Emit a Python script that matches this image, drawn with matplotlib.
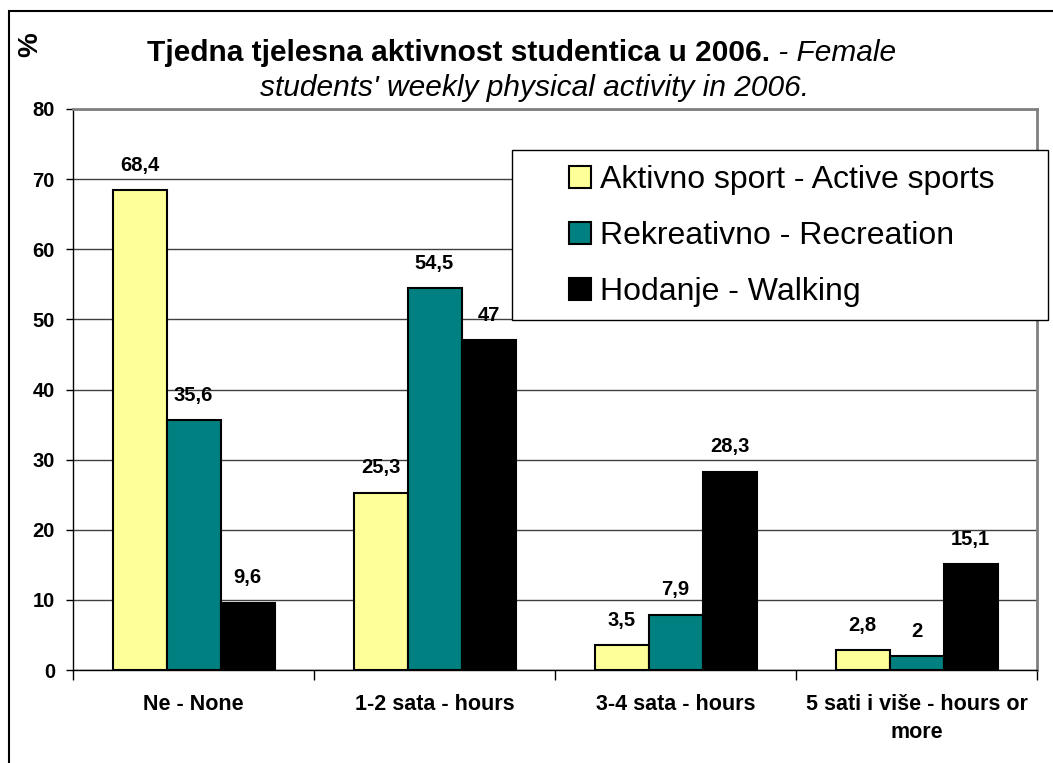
import matplotlib

matplotlib.use("Agg")
import matplotlib.pyplot as plt
import numpy as np
from matplotlib.patches import Rectangle

plt.rcParams["font.family"] = ["Liberation Sans", "DejaVu Sans"]

categories = ["Ne - None", "1-2 sata - hours", "3-4 sata - hours", "5 sati i više - hours or\nmore"]
series_names = ["Aktivno sport - Active sports", "Rekreativno - Recreation", "Hodanje - Walking"]
active = [68.4, 25.3, 3.5, 2.8]
recreation = [35.6, 54.5, 7.9, 2.0]
walking = [9.6, 47.0, 28.3, 15.1]
colors = ["#FFFF99", "#008080", "#000000"]

W, H = 1053, 763
fig = plt.figure(figsize=(W / 100, H / 100), dpi=100)
ax = fig.add_axes([73 / W, 1 - 670 / H, (1037 - 73) / W, (670 - 109) / H])

x = np.arange(len(categories))
bw = 54 / 241
for i, (vals, name, col) in enumerate(zip([active, recreation, walking], series_names, colors)):
    pos = x + (i - 1) * bw
    ax.bar(pos, vals, width=bw, color=col, edgecolor="black", linewidth=1.5, label=name, zorder=3)
    for px, v in zip(pos, vals):
        lbl = f"{v:g}".replace(".", ",")
        ax.annotate(lbl, (px, v), xytext=(0, 11), textcoords="offset points",
                    ha="center", va="bottom", fontsize=14.5, fontweight="bold", zorder=4)

ax.set_xlim(-0.5, len(categories) - 0.5)
ax.set_ylim(0, 80)
ax.set_yticks(np.arange(0, 81, 10))
ax.tick_params(axis="y", labelsize=14.5, length=5, width=1, pad=8)
for t in ax.get_yticklabels():
    t.set_fontweight("bold")
ax.yaxis.grid(True, color="#404040", linewidth=1, zorder=0)

ax.set_xticks(x)
ax.set_xticklabels(categories, fontsize=15.5, fontweight="bold", linespacing=1.45)
ax.tick_params(axis="x", length=0, pad=17)
ax.set_xticks(np.arange(-0.5, len(categories), 1), minor=True)
ax.tick_params(axis="x", which="minor", length=7, width=1)

for side in ("top", "right"):
    ax.spines[side].set_color("#808080")
    ax.spines[side].set_linewidth(2)
ax.spines["left"].set_linewidth(1)
ax.spines["bottom"].set_linewidth(1)

# legend box is wider than its entries, so the frame is drawn on its own
ax.add_patch(Rectangle((512 / W, 1 - 320 / H), (1048 - 512) / W, (320 - 150) / H,
                       transform=fig.transFigure, facecolor="white", edgecolor="black",
                       linewidth=1, zorder=4, clip_on=False))
leg = ax.legend(loc="upper left", bbox_to_anchor=(569 / W, 1 - 165 / H), bbox_transform=fig.transFigure,
                fontsize=23, frameon=False, handlelength=0.69, handleheight=0.69, handletextpad=0.28,
                labelspacing=0.82, borderpad=0, borderaxespad=0)
leg.set_zorder(5)
for h in leg.legend_handles:
    h.set_linewidth(1.5)

# outer chart border
fig.patches.append(Rectangle((9 / W, -0.1), 1.2, 1 - 11 / H + 0.1, transform=fig.transFigure,
                             fill=False, edgecolor="black", linewidth=1.5))

fig.text(30 / W, 1 - 45 / H, "%", rotation=90, ha="center", va="center", fontsize=20, fontweight="bold")

# title: bold part + italic part on first line
renderer = fig.canvas.get_renderer()
t1 = fig.text(0, 1 - 53 / H, "Tjedna tjelesna aktivnost studentica u 2006.", fontsize=21.5,
              fontweight="bold", ha="left", va="center")
t2 = fig.text(0, 1 - 53 / H, " - Female", fontsize=21.5, style="italic", ha="left", va="center")
w1 = t1.get_window_extent(renderer).width
w2 = t2.get_window_extent(renderer).width
start = 522 - (w1 + w2) / 2
t1.set_x(start / W)
t2.set_x((start + w1) / W)
fig.text(535 / W, 1 - 88 / H, "students' weekly physical activity in 2006.", fontsize=21.5,
         style="italic", ha="center", va="center")

fig.savefig("out.png", dpi=100)
